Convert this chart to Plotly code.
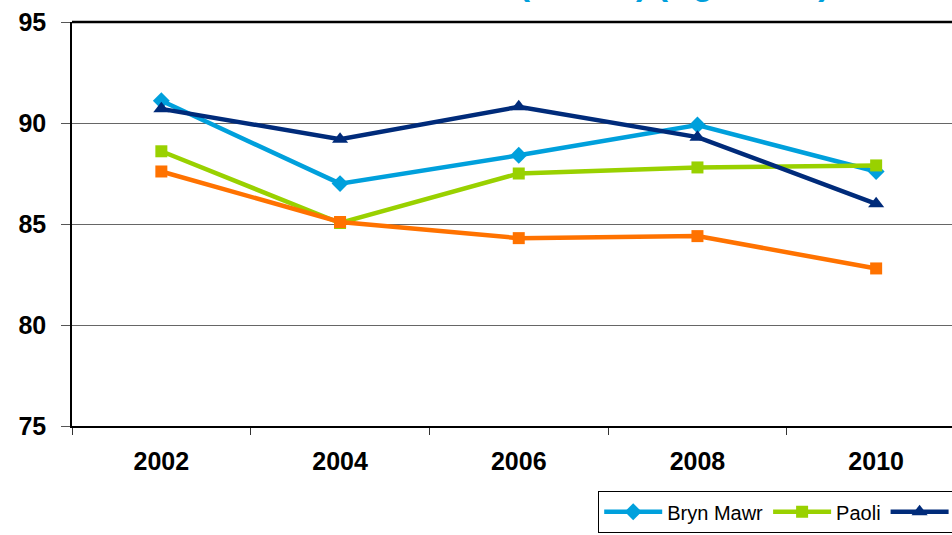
import plotly.graph_objects as go

years = ["2002", "2004", "2006", "2008", "2010"]
bryn_mawr = [91.1, 87.0, 88.4, 89.9, 87.6]
paoli = [88.6, 85.05, 87.5, 87.8, 87.9]
lankenau = [90.7, 89.2, 90.8, 89.3, 86.0]
riddle = [87.6, 85.1, 84.3, 84.4, 82.8]

series = [
    ("Bryn Mawr", bryn_mawr, "#00A0DC", "diamond", 13),
    ("Paoli", paoli, "#99D100", "square", 12),
    ("Lankenau", lankenau, "#002B7A", "triangle-up", 14),
    ("Riddle", riddle, "#FF7200", "square", 12),
]

W, H = 952, 535
ml, mt, mb = 72, 22, 109
pw = W - ml
ph = H - mt - mb

fig = go.Figure()
for name, vals, color, sym, size in series:
    fig.add_trace(go.Scatter(
        x=years, y=vals, name=name, mode="lines+markers",
        line=dict(color=color, width=4.5),
        marker=dict(symbol=sym, size=size, color=color),
    ))

fnt = "Liberation Sans, Arial, sans-serif"
fig.update_layout(
    width=W, height=H,
    margin=dict(l=ml, r=0, t=mt, b=mb, autoexpand=False),
    plot_bgcolor="white", paper_bgcolor="white",
    font=dict(family=fnt, color="black"),
    xaxis=dict(
        type="category", range=[-0.5, -0.5 + pw / 178.7],
        tickson="boundaries", ticks="outside", ticklen=7, tickcolor="#333",
        showgrid=False, showline=True, linecolor="black", linewidth=1.5,
        tickfont=dict(size=25, family=fnt, color="black", weight="bold"),
        ticklabelstandoff=12, automargin=False,
    ),
    yaxis=dict(
        range=[75, 95], dtick=5, ticks="outside", ticklen=9, tickcolor="#555",
        showgrid=True, gridcolor="#666", gridwidth=1,
        showline=True, linecolor="black", linewidth=1.5,
        tickfont=dict(size=25, family=fnt, color="black", weight="bold"),
        ticklabelstandoff=10, zeroline=False, automargin=False,
    ),
    showlegend=True,
    legend=dict(
        orientation="h", x=(598 - ml) / pw, xanchor="left",
        y=(426 - 491) / ph, yanchor="top",
        bordercolor="black", borderwidth=1.2, bgcolor="white",
        font=dict(size=20, family=fnt, color="black"),
        itemwidth=58, traceorder="normal",
    ),
)

fig.add_shape(type="line", xref="paper", yref="paper", x0=0, x1=1, y0=1, y1=1,
              line=dict(color="black", width=2.5))

fig.add_annotation(
    text="Health Status Rated Good (Adults) (Ages 65+)",
    xref="paper", yref="paper", x=(832 - ml) / pw, y=(ph + mt - 4) / ph,
    xanchor="right", yanchor="bottom", showarrow=False,
    font=dict(size=34, color="#00A0DC", family=fnt, weight="bold"),
)

fig.write_html("out.html", config={"displayModeBar": False},
               post_script="document.body.style.margin='0px';")
